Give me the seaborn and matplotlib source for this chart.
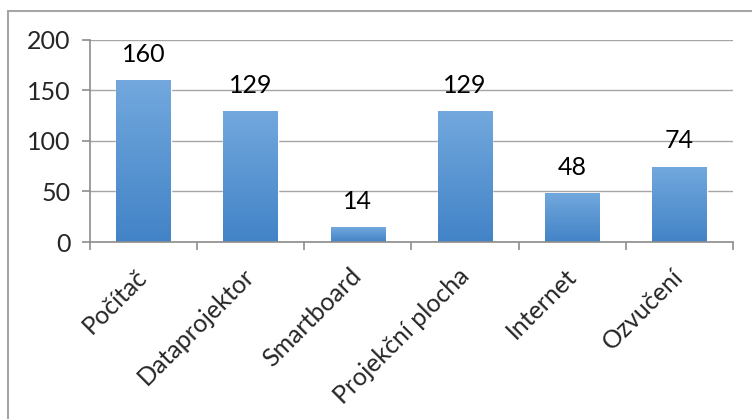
import numpy as np
import pandas as pd
import matplotlib
matplotlib.use("Agg")
import matplotlib.pyplot as plt
import seaborn as sns
from matplotlib.colors import LinearSegmentedColormap

categories = ["Počítač", "Dataprojektor", "Smartboard", "Projekční plocha", "Internet", "Ozvučení"]
values = [160, 129, 14, 129, 48, 74]
yticks = [0, 50, 100, 150, 200]

sns.set_style("white")
plt.rcParams["font.family"] = ["Lato", "DejaVu Sans"]

fig = plt.figure(figsize=(7.52, 4.19), dpi=100)
ax = fig.add_axes([90/752, 1-242/419, (733-90)/752, (242-40)/419])

df = pd.DataFrame({"cat": categories, "val": values})
sns.barplot(data=df, x="cat", y="val", color="#5596d5", width=0.51, ax=ax, saturation=1)

ax.set_xlim(-0.5, len(categories)-0.5)
ax.set_ylim(0, 200)
ax.set_yticks(yticks)
ax.set_xlabel("")
ax.set_ylabel("")

# gradient fill on bars
cmap = LinearSegmentedColormap.from_list("g", ["#4283c7", "#72a8dd"])
grad = np.linspace(0, 1, 256).reshape(-1, 1)
for p in ax.patches:
    x0, y0 = p.get_x(), p.get_y()
    w, h = p.get_width(), p.get_height()
    ax.imshow(grad, extent=[x0, x0+w, y0, y0+h], origin="lower", cmap=cmap,
              aspect="auto", zorder=p.get_zorder()+0.1, interpolation="bilinear")
    ax.annotate(f"{int(round(h))}", (x0+w/2, y0+h), xytext=(0, 19), textcoords="offset points",
                ha="center", va="center", fontsize=18, color="black")
ax.set_xlim(-0.5, len(categories)-0.5)
ax.set_ylim(0, 200)

ax.grid(axis="y", color="#a6a6a6", linewidth=1.0)
ax.set_axisbelow(True)
for s in ["top", "right"]:
    ax.spines[s].set_visible(False)
for s in ["left", "bottom"]:
    ax.spines[s].set_color("#8c8c8c")
    ax.spines[s].set_linewidth(1.2)

ax.tick_params(axis="y", length=6, width=1.2, color="#8c8c8c", labelsize=18, pad=8, direction="out", left=True)
ax.set_xticks(range(len(categories)))
ax.set_xticklabels(categories, rotation=45, ha="right", va="center", rotation_mode="anchor", fontsize=18)
ax.tick_params(axis="x", length=0, pad=22)
ax.set_xticks(np.arange(-0.5, len(categories)), minor=True)
ax.tick_params(axis="x", which="minor", length=6, width=1.2, color="#8c8c8c", bottom=True)

# figure border (top and left visible)
fig.add_artist(plt.Line2D([8/752, 1], [1-11/419, 1-11/419], color="#a6a6a6", linewidth=1.5, transform=fig.transFigure))
fig.add_artist(plt.Line2D([8/752, 8/752], [0, 1-11/419], color="#a6a6a6", linewidth=1.5, transform=fig.transFigure))

fig.savefig("out.png", dpi=100, facecolor="white")
